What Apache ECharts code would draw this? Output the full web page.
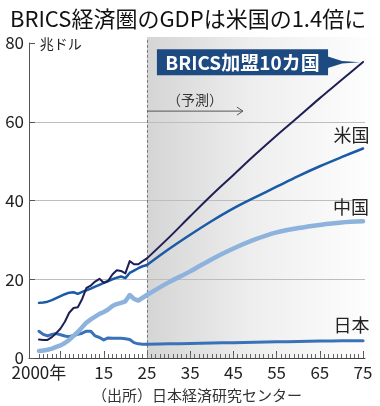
<!DOCTYPE html>
<html><head><meta charset="utf-8">
<script src="https://cdn.jsdelivr.net/npm/echarts@6/dist/echarts.min.js"></script>
<style>html,body{margin:0;padding:0;background:#fff}#c{width:380px;height:406px}</style>
</head><body><div id="c"></div>
<script>
// ---- data ----
const histYears = [2000,2001,2002,2003,2004,2005,2006,2007,2008,2009,2010,2011,2012,2013,2014,2015,2016,2017,2018,2019,2020,2021,2022,2023,2024,2025];
const bricsHist = [4.7,4.6,4.6,5.3,6.3,7.5,9.2,11.5,12.7,12.9,15.0,17.8,18.4,19.4,20.1,19.1,19.6,21.2,22.3,22.1,21.5,24.6,23.8,23.8,24.6,25.3];
const usHist    = [14.0,14.1,14.3,14.7,15.2,15.7,16.2,16.6,16.7,16.3,16.8,17.2,17.6,18.1,18.6,19.1,19.5,20.0,20.4,20.7,20.3,21.6,22.2,22.8,23.3,23.6];
const chinaHist = [1.8,1.9,2.1,2.4,2.8,3.2,3.8,4.6,5.6,6.6,7.8,9.0,9.8,10.5,11.2,11.7,12.3,13.2,13.7,14.0,14.4,16.0,15.0,14.6,15.3,16.0];
const japanHist = [6.8,6.0,5.6,6.0,6.2,5.9,5.6,5.4,5.7,6.0,6.3,6.8,6.8,5.6,5.2,4.6,5.1,5.0,5.0,5.0,4.9,4.7,3.9,3.6,3.5,3.5];
const fcYears   = [2025,2030,2035,2040,2045,2050,2055,2060,2065,2070,2075];
const bricsFc   = [25.3,30.5,36.0,41.4,46.5,51.6,56.5,61.2,66.0,70.6,75.2];
const usFc      = [23.6,27.6,31.3,34.8,38.0,40.8,43.5,46.2,48.7,51.0,53.2];
const chinaFc   = [16.0,19.2,22.0,25.1,27.8,30.1,31.9,33.0,33.8,34.4,34.7];
const japanFc   = [3.5,3.6,3.7,3.8,3.9,4.0,4.1,4.2,4.3,4.4,4.4];
const xLabelYears = [2000,2015,2025,2035,2045,2055,2065,2075];
const xMajorTicks = [2005,2015,2025,2035,2045,2055,2065,2075];
const yTickValues = [0,20,40,60,80];
const forecastStart = 2025;

const title = 'BRICS経済圏のGDPは米国の1.4倍に';
const unitText = '兆ドル';
const sourceText = '（出所）日本経済研究センター';
const forecastText = '（予測）';
const bricsLabel = 'BRICS加盟10カ国';
const usLabel = '米国', chinaLabel = '中国', japanLabel = '日本';

// ---- helpers ----
const pairs = (xs, ys) => xs.map((x, i) => [x, ys[i]]);
const allYears = [];
for (let y = 2000; y <= 2075; y++) allYears.push(y);

const CJK = "'Noto Sans CJK JP', sans-serif";
const NUM = "'Liberation Sans Narrow', 'Noto Sans CJK JP', sans-serif";

const C_BRICS = '#1f1f57', C_US = '#1a5aa6', C_CHINA = '#8db3dd', C_JP = '#3a72b9';

function line(name, xs, ys, color, width, smooth, z) {
  return { type: 'line', name, data: pairs(xs, ys), symbol: 'none', smooth: smooth ? 0.35 : false,
    lineStyle: { color, width, cap: 'round', join: 'round' }, z, silent: true };
}

const chart = echarts.init(document.getElementById('c'), null, { renderer: 'canvas' });
const option = {
  animation: false,
  backgroundColor: '#fff',
  title: { text: title, left: 5, top: 3,
    textStyle: { fontFamily: CJK, fontSize: 22, fontWeight: 'normal', color: '#111' } },
  grid: { left: 29, right: 15, top: 43, bottom: 48 },
  xAxis: [{
    type: 'value', min: 1997.7, max: 2075.45,
    axisLine: { show: true, lineStyle: { color: '#444', width: 1 } },
    axisTick: { show: true, inside: true, length: 7, customValues: xMajorTicks, lineStyle: { color: '#555' } },
    axisLabel: { customValues: xLabelYears, margin: 6, fontFamily: NUM, fontSize: 17, color: '#222',
      formatter: v => v === 2000 ? '2000年' : String(v - 2000).padStart(2, '0') },
    splitLine: { show: false }
  }, {
    type: 'value', min: 1997.7, max: 2075.45, position: 'bottom',
    axisLine: { show: false },
    axisTick: { show: true, inside: true, length: 4, customValues: allYears, lineStyle: { color: '#666' } },
    axisLabel: { show: false }, splitLine: { show: false }
  }],
  yAxis: {
    type: 'value', min: 0, max: 80, interval: 20,
    axisLine: { show: true, lineStyle: { color: '#555', width: 1 } },
    axisTick: { show: true, inside: true, length: 6, lineStyle: { color: '#555' } },
    axisLabel: { margin: 5, fontFamily: NUM, fontSize: 17, color: '#222' },
    splitLine: { show: true, lineStyle: { color: ['#bdbdbd','#bdbdbd','#bdbdbd','#bdbdbd','rgba(0,0,0,0)'], width: 1 } }
  },
  series: [
    line('日本', histYears, japanHist, C_JP, 3, false, 3),
    line('日本予測', fcYears, japanFc, C_JP, 3, true, 3),
    line('中国', histYears, chinaHist, C_CHINA, 4.5, false, 4),
    line('中国予測', fcYears, chinaFc, C_CHINA, 4.5, true, 4),
    line('米国', histYears, usHist, C_US, 2.5, false, 5),
    line('米国予測', fcYears, usFc, C_US, 2.5, true, 5),
    line('BRICS', histYears, bricsHist, C_BRICS, 2, false, 6),
    line('BRICS予測', fcYears, bricsFc, C_BRICS, 2, true, 6)
  ]
};
chart.setOption(option);

const P = (x, y) => chart.convertToPixel({ xAxisIndex: 0, yAxisIndex: 0 }, [x, y]);
const W = chart.getWidth();
const fs = P(forecastStart, 81.5), f0 = P(forecastStart, 0), fTop = P(forecastStart, 80.8);
const arrowL = P(forecastStart, 62.7), arrowR = P(2047.2, 62.7);
const predC = P(2036.1, 65.5);
const boxTL = P(2027.3, 78.4), boxBR = P(2066.9, 71.8), tip = P(2074.3, 75.1);
const boxMidY = (boxTL[1] + boxBR[1]) / 2;
const usP = P(2072.3, 56.7), cnP = P(2072.2, 38.3), jpP = P(2072.3, 8.4);
const unitP = P(2000.2, 79.7);

chart.setOption({
  graphic: [
    { type: 'rect', z: -10, silent: true,
      shape: { x: fs[0], y: fs[1], width: W - fs[0], height: f0[1] - fs[1] },
      style: { fill: new echarts.graphic.LinearGradient(0, 0, 1, 0, [
        { offset: 0, color: '#d5d5d5' }, { offset: 0.45, color: '#eeeeee' }, { offset: 1, color: '#ffffff' }]) } },
    { type: 'line', z: 1, silent: true,
      shape: { x1: fTop[0] + 0.5, y1: fTop[1], x2: f0[0] + 0.5, y2: f0[1] },
      style: { stroke: '#777', lineWidth: 1, lineDash: [3, 2] } },
    { type: 'line', z: 50, silent: true,
      shape: { x1: arrowL[0], y1: arrowL[1], x2: arrowR[0], y2: arrowR[1] },
      style: { stroke: '#555', lineWidth: 1 } },
    { type: 'polyline', z: 50, silent: true,
      shape: { points: [[arrowR[0] - 6, arrowR[1] - 4], [arrowR[0], arrowR[1]], [arrowR[0] - 6, arrowR[1] + 4]] },
      style: { stroke: '#555', lineWidth: 1, fill: 'none' } },
    { type: 'text', z: 50, silent: true, x: predC[0], y: predC[1],
      style: { text: forecastText, fontFamily: CJK, fontSize: 14, fill: '#333', align: 'center', verticalAlign: 'middle' } },
    { type: 'polygon', z: 60, silent: true,
      shape: { points: [[boxBR[0] - 1, boxMidY - 6], [boxBR[0] + 14, boxMidY - 1.2], [tip[0], tip[1]], [boxBR[0] + 14, boxMidY + 1.2], [boxBR[0] - 1, boxMidY + 6]] },
      style: { fill: '#1d4a80' } },
    { type: 'rect', z: 60, silent: true,
      shape: { x: boxTL[0], y: boxTL[1], width: boxBR[0] - boxTL[0], height: boxBR[1] - boxTL[1] },
      style: { fill: '#1d4a80' } },
    { type: 'text', z: 61, silent: true, x: (boxTL[0] + boxBR[0]) / 2, y: boxMidY + 0.5,
      style: { text: bricsLabel, fontFamily: CJK, fontSize: 19, fontWeight: 'bold', fill: '#fff', align: 'center', verticalAlign: 'middle' } },
    { type: 'text', z: 60, silent: true, x: usP[0], y: usP[1],
      style: { text: usLabel, fontFamily: CJK, fontSize: 18, fill: '#222', align: 'center', verticalAlign: 'middle' } },
    { type: 'text', z: 60, silent: true, x: cnP[0], y: cnP[1],
      style: { text: chinaLabel, fontFamily: CJK, fontSize: 18, fill: '#222', align: 'center', verticalAlign: 'middle' } },
    { type: 'text', z: 60, silent: true, x: jpP[0], y: jpP[1],
      style: { text: japanLabel, fontFamily: CJK, fontSize: 18, fill: '#222', align: 'center', verticalAlign: 'middle' } },
    { type: 'text', z: 60, silent: true, x: unitP[0], y: unitP[1],
      style: { text: unitText, fontFamily: CJK, fontSize: 14, fill: '#222', align: 'left', verticalAlign: 'middle' } },
    { type: 'text', z: 60, silent: true, x: 92, y: 395,
      style: { text: sourceText, fontFamily: CJK, fontSize: 15, fill: '#333', align: 'left', verticalAlign: 'middle' } }
  ]
});
</script>
</body></html>
